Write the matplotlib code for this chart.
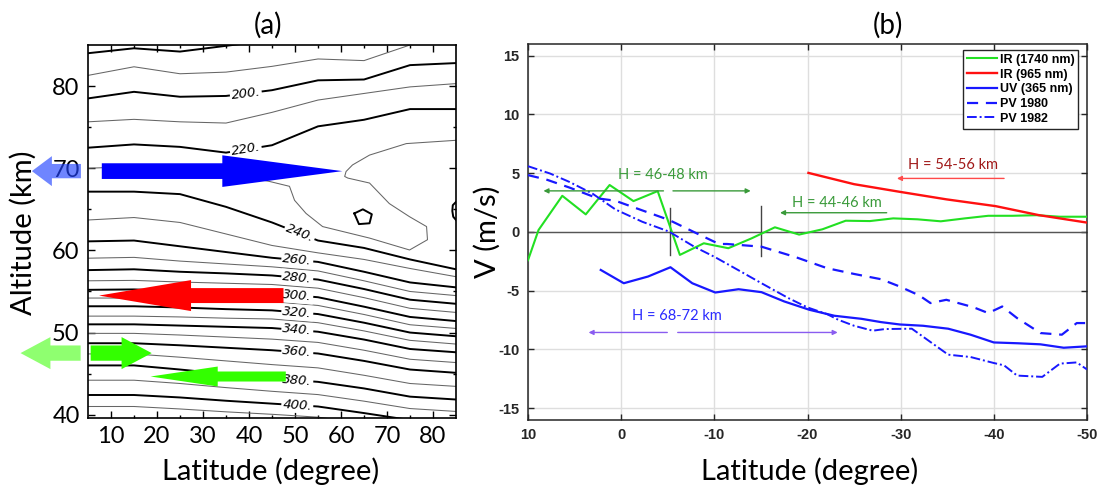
import numpy as np
import matplotlib
matplotlib.use("Agg")
import matplotlib.pyplot as plt
from matplotlib.patches import FancyArrow

# ---------------- Panel (a): temperature contours (K) ----------------
LAT_NODES = [5, 15, 25, 35, 45, 55, 65, 75, 85]
T180 = [84.0, 84.6, 84.2, 84.9, 85.6, 86.3, 86.8, 87.3, 87.8]
T190 = [81.3, 82.35, 81.5, 81.7, 82.4, 83.3, 83.1, 85.0, 85.8]
T200 = [78.5, 79.3, 78.7, 78.8, 79.5, 80.7, 80.8, 82.55, 82.8]
T210 = [75.65, 75.95, 75.65, 75.5, 76.8, 78.3, 79.1, 79.9, 80.3]
T220 = [72.5, 72.9, 72.6, 71.9, 72.8, 75.1, 75.9, 77.2, 77.2]
T240 = [67.15, 67.15, 66.85, 65.3, 63.4, 61.2, 60.3, 58.9, 57.7]
T250 = [63.7, 64.0, 63.4, 62.0, 60.6, 59.7, 58.9, 57.8, 56.8]
T260 = [61.1, 61.2, 60.5, 59.8, 59.1, 58.6, 57.4, 56.1, 55.5]
T270 = [59.05, 59.15, 58.7, 58.35, 58.0, 57.5, 56.3, 55.0, 54.5]
T280 = [57.6, 57.7, 57.4, 57.2, 56.95, 56.45, 55.3, 54.0, 53.5]
T290 = [56.3, 56.35, 56.15, 56.0, 55.85, 55.4, 54.25, 52.95, 52.45]
T300 = [55.2, 55.25, 55.05, 54.9, 54.75, 54.3, 53.15, 51.9, 51.4]
T310 = [54.2, 54.2, 54.05, 53.9, 53.75, 53.3, 52.2, 50.95, 50.5]
T320 = [53.2, 53.2, 53.05, 52.85, 52.7, 52.25, 51.2, 50.0, 49.55]
T330 = [52.0, 52.0, 51.9, 51.75, 51.65, 51.2, 50.2, 49.05, 48.6]
T340 = [51.0, 51.0, 50.85, 50.7, 50.55, 50.1, 49.15, 48.0, 47.6]
T350 = [49.9, 49.9, 49.7, 49.45, 49.2, 48.8, 47.85, 46.75, 46.35]
T360 = [48.7, 48.7, 48.45, 48.15, 47.85, 47.45, 46.55, 45.5, 45.1]
T370 = [47.4, 47.4, 47.0, 46.55, 46.1, 45.7, 44.8, 43.8, 43.45]
T380 = [46.0, 46.0, 45.5, 44.95, 44.4, 44.0, 43.2, 42.2, 41.85]
T390 = [44.2, 44.2, 43.8, 43.3, 42.85, 42.45, 41.65, 40.75, 40.4]
T400 = [42.4, 42.4, 42.1, 41.7, 41.35, 41.0, 40.2, 39.35, 39.0]
T410 = [41.0, 41.0, 40.7, 40.35, 40.05, 39.7, 38.95, 38.1, 37.8]

# 230 K contour folds back into a tongue
T230_LAT = [5, 15, 25, 35, 44.4, 48.8, 49.9, 52.4, 56.0, 66.2, 74.9, 78.8, 78.6,
            74.9, 70.5, 66.2, 61.5, 60.8, 61.1, 62.5, 66.2, 74.2, 85]
T230_ALT = [70.0, 70.2, 70.1, 69.4, 68.4, 67.8, 66.1, 64.5, 62.9, 61.5, 60.05, 61.3, 62.9,
            64.1, 65.7, 68.2, 68.8, 69.0, 69.6, 70.4, 71.6, 73.0, 73.4]
# small closed contour and edge contour
PENT_LAT = [62.9, 64.75, 66.7, 66.2, 63.9, 62.9]
PENT_ALT = [64.5, 65.0, 64.4, 63.3, 63.2, 64.5]
EDGE_LAT = [85, 84.3, 84.2, 84.4, 85]
EDGE_ALT = [65.9, 65.5, 64.8, 64.1, 63.7]

LEVEL_LINES = {180: T180, 190: T190, 200: T200, 210: T210, 220: T220,
               240: T240, 250: T250, 260: T260, 270: T270, 280: T280, 290: T290,
               300: T300, 310: T310, 320: T320, 330: T330, 340: T340, 350: T350,
               360: T360, 370: T370, 380: T380, 390: T390, 400: T400, 410: T410}
LABEL_LEVELS = [200, 220, 240, 260, 280, 300, 320, 340, 360, 380, 400]
LABEL_LAT = [39.3, 39.3, 51.0, 50.5, 50.5, 50.5, 50.5, 50.5, 50.5, 50.5, 50.5]

# ---------------- Panel (b): zonal wind ----------------
IR1740_LAT = [10, 8.87, 6.32, 3.8, 1.24, -1.32, -3.92, -6.3, -8.87, -11.5, -14.0, -16.5, -19.1,
              -21.6, -24.1, -26.7, -29.2, -31.8, -34.3, -36.9, -39.4, -42.0, -44.6, -47.1, -50]
IR1740_V = [-2.4, 0.17, 3.08, 1.5, 4.0, 2.63, 3.48, -1.95, -0.96, -1.38, -0.54, 0.4, -0.22,
            0.23, 0.96, 0.93, 1.16, 1.08, 0.91, 1.16, 1.38, 1.38, 1.43, 1.3, 1.3]
IR965_LAT = [-20.1, -25, -29.9, -34.9, -40.2, -44.8, -50]
IR965_V = [5.03, 4.07, 3.42, 2.78, 2.2, 1.44, 0.8]
UV365_LAT = [2.19, -0.28, -2.88, -5.29, -7.63, -10.1, -12.6, -15.06, -17.5, -20.2, -22.9,
             -25.8, -27.9, -29.9, -32.4, -35.1, -37.5, -40.0, -42.6, -45.0, -47.5, -50]
UV365_V = [-3.23, -4.36, -3.79, -3.0, -4.36, -5.15, -4.87, -5.12, -5.91, -6.62, -7.13,
           -7.39, -7.67, -7.87, -7.98, -8.23, -8.74, -9.4, -9.47, -9.56, -9.85, -9.73]
PV1980_LAT = [10, 8.05, 5.58, 2.5, 0.62, -5.15, -8.46, -10.5, -11.35, -15.06, -18.77, -22.1,
              -25.0, -27.9, -29.9, -32.0, -33.2, -34.9, -37.8, -39.4, -40.9, -42.5, -45.0,
              -47.3, -48.9, -50]
PV1980_V = [4.84, 4.47, 3.79, 2.86, 2.66, 1.02, -0.25, -1.02, -1.02, -1.25, -2.15, -3.08,
            -3.57, -4.02, -4.64, -5.4, -6.05, -5.77, -6.4, -6.9, -6.34, -7.33, -8.6,
            -8.74, -7.75, -7.75]
PV1982_LAT = [10, 7.64, 5.58, 3.1, 0.62, -2.27, -5.15, -7.84, -10.1, -12.2, -15.06, -17.96,
              -20.0, -22.1, -23.3, -25.0, -27.0, -28.3, -31.2, -35.1, -37.5, -40.0, -41.1,
              -42.5, -45.2, -47.1, -48.9, -50]
PV1982_V = [5.6, 4.98, 4.27, 3.28, 1.92, 0.87, 0.03, -1.25, -2.15, -3.08, -4.36, -5.63,
            -6.42, -6.99, -7.47, -7.98, -8.4, -8.26, -8.23, -10.44, -10.64, -11.15, -11.35,
            -12.22, -12.33, -11.2, -11.1, -11.7]
SERIES_LABELS = ["IR (1740 nm)", "IR (965 nm)", "UV (365 nm)", "PV 1980", "PV 1982"]
XTICKS_B = [10, 0, -10, -20, -30, -40, -50]
XTICKLABELS_B = ["10", "0", "-10", "-20", "-30", "-40", "-50"]
YTICKS_B = [-15, -10, -5, 0, 5, 10, 15]
YTICKLABELS_B = ["-15", "-10", "-5", "0", "5", "10", "15"]

# ---------------- Figure ----------------
W, H = 1100, 486
fig = plt.figure(figsize=(W / 100, H / 100), dpi=100)
CAL = ["Lato", "DejaVu Sans"]


def px_axes(l, t, r, b):
    return [l / W, 1 - b / H, (r - l) / W, (b - t) / H]


axa = fig.add_axes(px_axes(88, 45, 456, 418))
axb = fig.add_axes(px_axes(528, 44, 1087, 420))

# ---- panel (a)
axa.set_xlim(5, 85)
axa.set_ylim(39.6, 85)
for lvl, alts in LEVEL_LINES.items():
    thick = lvl % 20 == 0
    axa.plot(LAT_NODES, alts, color="black" if thick else "#666666",
             lw=1.4 if thick else 0.75, zorder=2)
axa.plot(T230_LAT, T230_ALT, color="#666666", lw=0.75, zorder=2)
axa.plot(PENT_LAT, PENT_ALT, color="black", lw=1.4, zorder=2)
axa.plot(EDGE_LAT, EDGE_ALT, color="black", lw=1.4, zorder=2)

for lvl, lat in zip(LABEL_LEVELS, LABEL_LAT):
    alts = LEVEL_LINES[lvl]
    alt = np.interp(lat, LAT_NODES, alts)
    p1 = axa.transData.transform((lat - 4, np.interp(lat - 4, LAT_NODES, alts)))
    p2 = axa.transData.transform((lat + 4, np.interp(lat + 4, LAT_NODES, alts)))
    ang = np.degrees(np.arctan2(p2[1] - p1[1], p2[0] - p1[0]))
    axa.text(lat, alt, f"{lvl}.", fontsize=9.5, family="DejaVu Sans", style="italic",
             ha="center", va="center", rotation=ang, rotation_mode="anchor",
             bbox=dict(boxstyle="square,pad=0.1", fc="white", ec="none"), zorder=3)

axa.set_xticks(range(10, 90, 10))
axa.set_xticks(range(15, 85, 10), minor=True)
axa.set_yticks([40, 50, 60, 70, 80])
axa.set_yticks([45, 55, 65, 75], minor=True)
axa.tick_params(which="both", direction="in", top=True, right=True, width=1)
axa.tick_params(which="major", length=5, labelsize=17, pad=6)
axa.tick_params(which="minor", length=2.5)
for lab in axa.get_xticklabels() + axa.get_yticklabels():
    lab.set_family(CAL)
for s in axa.spines.values():
    s.set_linewidth(1.2)


# arrows in panel (a)
def harrow(ax, tail, tip, y, w, hw, hl, color, alpha=1.0):
    ar = FancyArrow(tail, y, tip - tail, 0, width=w, head_width=hw, head_length=hl,
                    length_includes_head=True, color=color, lw=0, alpha=alpha,
                    clip_on=False, zorder=5)
    ax.add_patch(ar)


harrow(axa, 8.0, 60.3, 69.65, 1.91, 3.85, 26.1, "#0000ff")
harrow(axa, 3.46, -7.2, 69.65, 1.74, 3.65, 4.35, "#2244ff", 0.65)
harrow(axa, 47.5, 7.4, 54.5, 1.82, 3.77, 20.0, "#ff0000")
harrow(axa, 3.4, -9.67, 47.5, 1.86, 3.9, 6.5, "#44ff11", 0.6)
harrow(axa, 5.58, 18.85, 47.5, 1.86, 3.9, 6.55, "#33ff00")
harrow(axa, 48.0, 18.6, 44.65, 1.22, 2.43, 14.6, "#33ff00")

# ---- panel (b)
axb.set_xlim(10, -50)
axb.set_ylim(-16, 16)
axb.grid(True, color="#dedede", lw=1)
axb.set_axisbelow(True)
axb.axhline(0, color="#555555", lw=1, zorder=1.5)
l1, = axb.plot(IR1740_LAT, IR1740_V, color="#22e022", lw=1.5, zorder=3)
l2, = axb.plot(IR965_LAT, IR965_V, color="#ff1010", lw=1.7, zorder=3)
l3, = axb.plot(UV365_LAT, UV365_V, color="#1818ff", lw=1.6, zorder=3)
l4, = axb.plot(PV1980_LAT, PV1980_V, color="#1818ff", lw=1.6, ls=(0, (5, 3.5)), zorder=3)
l5, = axb.plot(PV1982_LAT, PV1982_V, color="#1818ff", lw=1.4, ls=(0, (5, 1.5, 1, 1.5)), zorder=3)

axb.plot([-5.28, -5.28], [-1.95, 2.0], color="#444444", lw=1, zorder=2)
axb.plot([-14.99, -14.99], [-2.04, 2.2], color="#444444", lw=1, zorder=2)


def annot_arrow(ax, x0, x1, y, color):
    ax.annotate("", xy=(x1, y), xytext=(x0, y),
                arrowprops=dict(arrowstyle="-|>", color=color, lw=1,
                                mutation_scale=7, shrinkA=0, shrinkB=0), zorder=4)


GREEN = "#3a9a3a"
axb.text(-4.5, 4.84, "H = 46-48 km", color=GREEN, fontsize=10.5, family=CAL,
         ha="center", va="center")
annot_arrow(axb, -4.54, 8.34, 3.5, GREEN)
annot_arrow(axb, -5.56, -13.9, 3.5, GREEN)
axb.text(-23.1, 2.46, "H = 44-46 km", color=GREEN, fontsize=10.5, family=CAL,
         ha="center", va="center")
annot_arrow(axb, -28.5, -17.05, 1.64, GREEN)
axb.text(-35.6, 5.69, "H = 54-56 km", color="#a01818", fontsize=10.5, family=CAL,
         ha="center", va="center")
annot_arrow(axb, -41.1, -29.6, 4.56, "#ff4a4a")
axb.text(-6.0, -7.19, "H = 68-72 km", color="#2a2aff", fontsize=10.5, family=CAL,
         ha="center", va="center")
annot_arrow(axb, -4.95, 3.5, -8.55, "#8a5cf0")
annot_arrow(axb, -6.07, -23.24, -8.55, "#8a5cf0")

axb.set_xticks(XTICKS_B)
axb.set_xticklabels(XTICKLABELS_B)
axb.set_yticks(YTICKS_B)
axb.set_yticklabels(YTICKLABELS_B)
axb.tick_params(direction="in", top=True, right=True, length=4, width=1,
                color="#262626", labelsize=10.5, labelcolor="#262626", pad=6)
for lab in axb.get_xticklabels() + axb.get_yticklabels():
    lab.set_family("Liberation Sans")
    lab.set_fontweight("bold")
for s in axb.spines.values():
    s.set_linewidth(1.1)
    s.set_color("#262626")

leg = axb.legend([l1, l2, l3, l4, l5], SERIES_LABELS, loc="upper right",
                 bbox_to_anchor=(0.984, 0.984), borderaxespad=0, fancybox=False,
                 framealpha=1, edgecolor="#262626",
                 prop=dict(family="Liberation Sans", weight="bold", size=9),
                 handlelength=2.4, handletextpad=0.2, labelspacing=0.22, borderpad=0.3)
leg.get_frame().set_linewidth(1.0)

# ---- titles and axis labels
fig.text(268 / W, 1 - 25 / H, "(a)", fontsize=20, family=CAL, ha="center", va="center")
fig.text(888 / W, 1 - 25 / H, "(b)", fontsize=20, family=CAL, ha="center", va="center")
fig.text(271 / W, 1 - 480 / H, "Latitude (degree)", fontsize=21, family=CAL,
         ha="center", va="baseline")
fig.text(810 / W, 1 - 480 / H, "Latitude (degree)", fontsize=21, family=CAL,
         ha="center", va="baseline")
fig.text(23.5 / W, 1 - 233 / H, "Altitude (km)", fontsize=21, family=CAL, rotation=90,
         ha="center", va="center")
fig.text(487 / W, 1 - 232 / H, "V (m/s)", fontsize=21, family=CAL, rotation=90,
         ha="center", va="center")

fig.savefig("out.png", dpi=100)
